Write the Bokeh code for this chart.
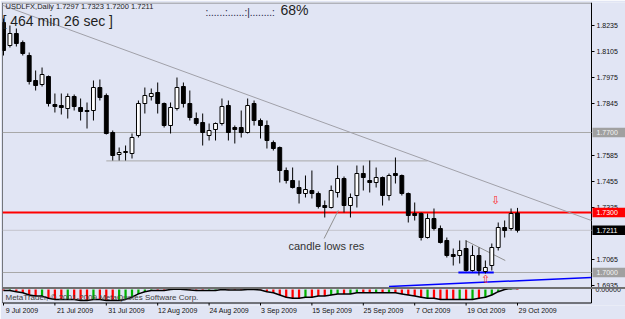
from bokeh.plotting import figure
from bokeh.models import Range1d, FixedTicker, Label, Span, ColumnDataSource, LinearAxis
from bokeh.embed import file_html
from bokeh.resources import INLINE
from bokeh.core.properties import value

# ---------------- data ----------------
tick_bars = [0, 8, 16, 24, 32, 40, 48, 56, 64, 72, 80]
tick_labels = ["9 Jul 2009", "21 Jul 2009", "31 Jul 2009", "12 Aug 2009", "24 Aug 2009",
               "3 Sep 2009", "15 Sep 2009", "25 Sep 2009", "7 Oct 2009", "19 Oct 2009", "29 Oct 2009"]

opens = [1.8250, 1.8135, 1.8195, 1.8150, 1.8085, 1.7960, 1.7940, 1.7980, 1.7840, 1.7835,
         1.7820, 1.7880, 1.7825, 1.7810, 1.7810, 1.7925, 1.7885, 1.7700, 1.7590, 1.7600,
         1.7595, 1.7685, 1.7845, 1.7880, 1.7900, 1.7845, 1.7735, 1.7820, 1.7930, 1.7845,
         1.7770, 1.7750, 1.7685, 1.7715, 1.7745, 1.7835, 1.7725, 1.7725, 1.7700, 1.7845,
         1.7760, 1.7735, 1.7650, 1.7625, 1.7510, 1.7460, 1.7425, 1.7395, 1.7410, 1.7395,
         1.7335, 1.7325, 1.7400, 1.7470, 1.7335, 1.7385, 1.7495, 1.7460, 1.7450, 1.7475,
         1.7385, 1.7495, 1.7485, 1.7395, 1.7295, 1.7295, 1.7175, 1.7270, 1.7220, 1.7160,
         1.7090, 1.7085, 1.7120, 1.7010, 1.7085, 1.7005, 1.7035, 1.7125, 1.7225, 1.7220,
         1.7297]
highs = [1.8270, 1.8235, 1.8220, 1.8160, 1.8100, 1.8010, 1.8025, 1.7985, 1.7895, 1.7895,
         1.7895, 1.7890, 1.7870, 1.7850, 1.7960, 1.7965, 1.7895, 1.7710, 1.7625, 1.7635,
         1.7695, 1.7860, 1.7925, 1.7920, 1.7950, 1.7850, 1.7850, 1.7975, 1.7950, 1.7910,
         1.7800, 1.7795, 1.7745, 1.7750, 1.7870, 1.7860, 1.7735, 1.7810, 1.7870, 1.7860,
         1.7770, 1.7760, 1.7660, 1.7630, 1.7525, 1.7525, 1.7460, 1.7485, 1.7510, 1.7405,
         1.7360, 1.7435, 1.7535, 1.7480, 1.7395, 1.7535, 1.7535, 1.7560, 1.7525, 1.7480,
         1.7495, 1.7575, 1.7490, 1.7400, 1.7350, 1.7300, 1.7295, 1.7320, 1.7235, 1.7175,
         1.7120, 1.7160, 1.7160, 1.7135, 1.7125, 1.7060, 1.7145, 1.7250, 1.7260, 1.7320,
         1.7323]
lows = [1.8085, 1.8125, 1.8130, 1.8085, 1.7940, 1.7910, 1.7930, 1.7830, 1.7800, 1.7790,
        1.7770, 1.7810, 1.7760, 1.7720, 1.7760, 1.7860, 1.7690, 1.7560, 1.7560, 1.7560,
        1.7570, 1.7675, 1.7795, 1.7860, 1.7795, 1.7725, 1.7695, 1.7810, 1.7825, 1.7760,
        1.7735, 1.7635, 1.7660, 1.7660, 1.7735, 1.7660, 1.7645, 1.7675, 1.7695, 1.7735,
        1.7670, 1.7620, 1.7610, 1.7450, 1.7445, 1.7420, 1.7345, 1.7375, 1.7370, 1.7320,
        1.7275, 1.7320, 1.7375, 1.7300, 1.7275, 1.7325, 1.7410, 1.7400, 1.7425, 1.7335,
        1.7360, 1.7445, 1.7385, 1.7250, 1.7260, 1.7160, 1.7170, 1.7210, 1.7145, 1.7075,
        1.7035, 1.7045, 1.7005, 1.7005, 1.6985, 1.6995, 1.7010, 1.7110, 1.7175, 1.7210,
        1.7200]
closes = [1.8110, 1.8195, 1.8145, 1.8095, 1.7955, 1.7935, 1.7990, 1.7845, 1.7830, 1.7825,
          1.7880, 1.7830, 1.7805, 1.7805, 1.7925, 1.7875, 1.7695, 1.7585, 1.7600, 1.7605,
          1.7675, 1.7845, 1.7885, 1.7895, 1.7845, 1.7735, 1.7825, 1.7925, 1.7845, 1.7775,
          1.7745, 1.7700, 1.7710, 1.7745, 1.7830, 1.7700, 1.7715, 1.7700, 1.7835, 1.7760,
          1.7735, 1.7660, 1.7620, 1.7510, 1.7460, 1.7425, 1.7395, 1.7415, 1.7395, 1.7330,
          1.7325, 1.7410, 1.7470, 1.7335, 1.7375, 1.7495, 1.7475, 1.7450, 1.7475, 1.7385,
          1.7485, 1.7485, 1.7395, 1.7285, 1.7285, 1.7175, 1.7270, 1.7220, 1.7150, 1.7085,
          1.7080, 1.7110, 1.7010, 1.7085, 1.7010, 1.7025, 1.7125, 1.7225, 1.7210, 1.7295,
          1.7211]

indicator = [-0.1, -0.1, -0.2, -0.3,
             -0.5, -0.6, -0.6, -0.8, -0.9, -0.9, -0.9, -0.9, -1.0, -1.0, -0.9, -0.9, -1.0, -1.0, -1.0, -0.9,
             -0.7, -0.4, -0.2, -0.1, -0.1, -0.1, 0.0, 0.05, 0.0, -0.05, -0.1, -0.1, -0.1, -0.1, 0.0,
             -0.05, -0.05, -0.05, 0.0, 0.0, -0.05,
             -0.2, -0.3, -0.5, -0.7, -0.8, -0.8, -0.7,
             -0.7, -0.6, -0.6, -0.5, -0.4, -0.4, -0.4, -0.3, -0.3, -0.3, -0.3, -0.3, -0.3, -0.3, -0.4,
             -0.5, -0.6, -0.7, -0.8, -0.8, -0.9, -0.9, -0.9, -0.9, -0.9, -0.9, -0.8, -0.7, -0.5,
             -0.2, 0.0, 0.1, 0.1]

price_ticks = [1.8235, 1.8105, 1.7975, 1.7845, 1.7585, 1.7455, 1.7325, 1.7065, 1.6935]
level_upper = 1.7700
level_resistance = 1.7300
bid_price = 1.7211
level_support = 1.7000
marker_prices = [level_upper, level_resistance, bid_price, level_support]
marker_fill = ["#A0A0A0", "#FF0000", "#000000", "#A0A0A0"]
marker_text = ["#F4F4F4", "#FFFFFF", "#FFFFFF", "#F4F4F4"]
level_colors = ["#A8A8A8", "#FF0000", "#C4C4CC", "#A8A8A8"]
level_widths = [1, 2, 1, 1]

res_line_x = [16, 66]
res_line_y = [1.7558, 1.7558]
trend_x = [-0.47, 91.5]
trend_y = [1.8340, 1.7260]
wedge_x = [71.9, 78.1]
wedge_y = [1.7160, 1.7060]
pointer_x = [49.9, 52.1]
pointer_y = [1.7170, 1.7310]
support_x = [70.8, 76.3]
support_y = [1.7000, 1.7000]
blue_trend_x = [60, 91.5]
blue_trend_y = [1.6930, 1.6975]

# ---------------- helpers (pixel placement of frame furniture) ----------------
BAR_PX = 6.425

def px2x(px):
    return (px - 3) / BAR_PX

def py2y(py):
    return 1.836 - 0.0005 * py

BG = "#E1E5F4"
FONT = "Liberation Sans"
CHART_RIGHT = px2x(591)
CHART_LEFT = px2x(2)

n = len(opens)
idx = list(range(n))
bull = [c >= o for o, c in zip(opens, closes)]
src = ColumnDataSource(dict(
    x=idx, o=opens, h=highs, l=lows, c=closes,
    top=[max(o, c) for o, c in zip(opens, closes)],
    bottom=[min(o, c) for o, c in zip(opens, closes)],
    fill=["white" if b else "black" for b in bull],
    ind=indicator,
    ind_top=[max(0, v) for v in indicator],
    ind_bot=[min(0, v) for v in indicator],
    ind_col=["#00B000" if b else "#FF0000" for b in bull],
))

p = figure(width=625, height=319, output_backend="svg", toolbar_location=None,
           x_range=Range1d(px2x(2), px2x(625)), y_range=Range1d(py2y(305), py2y(2)),
           y_axis_location=None,
           min_border_left=2, min_border_top=2, min_border_right=0, min_border_bottom=14)
p.extra_y_ranges = {"ind": Range1d(-16 / 11, 287 / 11)}
p.background_fill_color = BG
p.border_fill_color = BG
p.outline_line_color = None
p.grid.visible = False

# bottom time axis (labels start just right of each tick, as in MetaTrader)
xa = p.xaxis[0]
label_pos = [b + (2 + len(t) * 3.3 / 2) / BAR_PX for b, t in zip(tick_bars, tick_labels)]
xa.ticker = FixedTicker(ticks=label_pos)
xa.major_label_overrides = {pos: t for pos, t in zip(label_pos, tick_labels)}
xa.major_label_text_font = FONT
xa.major_label_text_font_size = "7px"
xa.major_label_text_color = "#111111"
xa.major_label_standoff = 1
xa.major_tick_out = 0
xa.major_tick_in = 0
xa.major_tick_line_color = None
xa.minor_tick_line_color = None
xa.axis_line_color = None

# chart frame (MetaTrader window border) and time ticks
p.segment(x0=[CHART_LEFT, CHART_LEFT, CHART_RIGHT, CHART_LEFT],
          y0=[py2y(2.5), py2y(302.5), py2y(2), py2y(2)],
          x1=[CHART_RIGHT, CHART_RIGHT, CHART_RIGHT, CHART_LEFT],
          y1=[py2y(2.5), py2y(302.5), py2y(302.5), py2y(302.5)],
          line_color=["#808080", "black", "black", "black"], line_width=1)
p.segment(x0=tick_bars, x1=tick_bars, y0=py2y(302.5), y1=py2y(305.5), line_color="black")

# horizontal price levels
p.segment(x0=CHART_LEFT, x1=CHART_RIGHT, y0=marker_prices, y1=marker_prices,
          line_color=level_colors, line_width=level_widths)
# separator between main window and indicator window
p.add_layout(Span(location=py2y(287.5), dimension="width", line_color="#707070", line_width=2))

# drawn lines
p.line(res_line_x, res_line_y, line_color="#A8A8A8", line_width=1)
p.line(trend_x, trend_y, line_color="#A0A0A8", line_width=1)
p.line(wedge_x, wedge_y, line_color="#909090", line_width=1)
p.line(pointer_x, pointer_y, line_color="#909090", line_width=1)
p.line(support_x, support_y, line_color="#0000FF", line_width=2)
p.line(blue_trend_x, blue_trend_y, line_color="#0000FF", line_width=1.5)

# candles
p.segment(x0="x", y0="h", x1="x", y1="l", source=src, line_color="black", line_width=1)
p.vbar(x="x", top="top", bottom="bottom", width=0.6, source=src,
       fill_color="fill", line_color="black", line_width=1)

# indicator sub-window
p.vbar(x="x", top="ind_top", bottom="ind_bot", width=0.35, source=src,
       fill_color="ind_col", line_color=None, y_range_name="ind")
p.line(x="x", y="ind", source=src, line_color="black", line_width=1.5, y_range_name="ind")

# right price scale (MetaTrader style: short tick, left-aligned label)
p.segment(x0=CHART_RIGHT, x1=px2x(594), y0=price_ticks, y1=price_ticks, line_color="black")
p.text(x=px2x(596), y=price_ticks, text=["%.4f" % v for v in price_ticks],
       text_font=value(FONT), text_font_size="7px", text_color="#111111", text_baseline="middle")
# highlighted price labels
p.quad(left=px2x(592), right=px2x(625), top=[v + 0.0024 for v in marker_prices],
       bottom=[v - 0.0024 for v in marker_prices], fill_color=marker_fill, line_color=None)
p.text(x=px2x(596), y=marker_prices, text=["%.4f" % v for v in marker_prices],
       text_font=value(FONT), text_font_size="7px", text_color=marker_text, text_baseline="middle")
p.text(x=px2x(595), y=[0], text=["0.00000"], y_range_name="ind",
       text_font=value(FONT), text_font_size="7px", text_color="#111111", text_baseline="middle")

# texts
p.add_layout(Label(x=px2x(5), y=py2y(10.5), text="USDLFX,Daily  1.7297 1.7323 1.7200 1.7211",
                   text_font=FONT, text_font_size="7.5px", text_color="#222222"))
p.add_layout(Label(x=px2x(2), y=py2y(28), text="[ 464 min 26 sec ]",
                   text_font=FONT, text_font_size="14px", text_color="#1E1E1E"))
p.add_layout(Label(x=px2x(205), y=py2y(17), text=":......:......:|........:",
                   text_font=FONT, text_font_size="10px", text_color="#202040"))
p.add_layout(Label(x=px2x(280), y=py2y(17), text="68%",
                   text_font=FONT, text_font_size="14px", text_color="#1E1E1E"))
p.add_layout(Label(x=px2x(288), y=py2y(251), text="candle lows res",
                   text_font=FONT, text_font_size="11px", text_color="#333333"))
p.add_layout(Label(x=px2x(495), y=py2y(200), text="\u21e9", text_align="center", text_baseline="middle",
                   text_font="DejaVu Sans", text_font_size="11px", text_color="#FF2020"))
p.add_layout(Label(x=px2x(485), y=py2y(279), text="\u21e7", text_align="center", text_baseline="middle",
                   text_font="DejaVu Sans", text_font_size="11px", text_color="#FF2020"))
p.add_layout(Label(x=px2x(5), y=py2y(301), text="MetaTrader, \u00a9 2001-2009 MetaQuotes Software Corp.",
                   text_font=FONT, text_font_size="8px", text_color="#404040"))

open("out.html", "w").write(file_html(p, INLINE))
